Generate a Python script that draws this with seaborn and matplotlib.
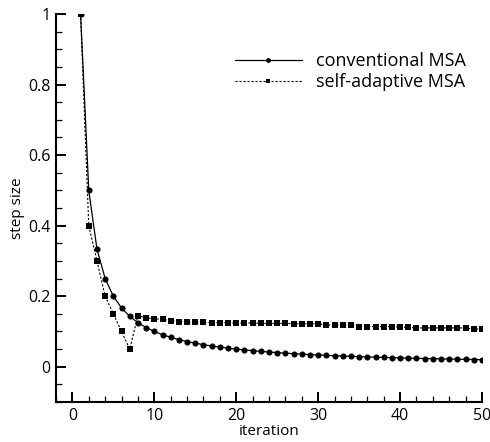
import matplotlib
matplotlib.use("Agg")
import matplotlib.pyplot as plt
import seaborn as sns
import pandas as pd
from matplotlib.ticker import MultipleLocator

iterations = list(range(1, 51))
conventional = [1.0 / k for k in iterations]
self_adaptive = [1.0, 0.4, 0.3, 0.2, 0.15, 0.1, 0.05, 0.145, 0.138, 0.136,
                 0.134, 0.131, 0.128, 0.127, 0.127, 0.126, 0.125, 0.125, 0.125, 0.124,
                 0.124, 0.124, 0.123, 0.123, 0.123, 0.123, 0.122, 0.122, 0.122, 0.122,
                 0.118, 0.118, 0.117, 0.117, 0.114, 0.114, 0.114, 0.114, 0.114, 0.112,
                 0.112, 0.110, 0.110, 0.110, 0.110, 0.110, 0.110, 0.110, 0.107, 0.107]
series_names = ["conventional MSA", "self-adaptive MSA"]

sns.set_theme(style="ticks")
plt.rcParams["font.family"] = ["Open Sans", "DejaVu Sans"]
plt.rcParams["text.color"] = "black"
plt.rcParams["axes.labelcolor"] = "black"
plt.rcParams["xtick.color"] = "black"
plt.rcParams["ytick.color"] = "black"

fig = plt.figure(figsize=(4.9, 4.42), dpi=100)
ax = fig.add_axes([56 / 490, 1 - 402 / 442, (482 - 56) / 490, (402 - 14) / 442])

df1 = pd.DataFrame({"iteration": iterations, "step size": conventional})
df2 = pd.DataFrame({"iteration": iterations, "step size": self_adaptive})

sns.lineplot(data=df1, x="iteration", y="step size", ax=ax, color="black",
             linewidth=0.9, marker="o", markersize=4.4, markeredgewidth=0,
             label=series_names[0])
sns.lineplot(data=df2, x="iteration", y="step size", ax=ax, color="black",
             linewidth=0.8, linestyle=(0, (2, 1.6)), marker="s", markersize=3.8,
             markeredgewidth=0, label=series_names[1])

ax.set_xlim(-2, 50)
ax.set_ylim(-0.1, 1)
ax.xaxis.set_major_locator(MultipleLocator(10))
ax.xaxis.set_minor_locator(MultipleLocator(2))
ax.yaxis.set_minor_locator(MultipleLocator(0.05))
ax.set_yticks([0, 0.2, 0.4, 0.6, 0.8, 1.0])
ax.set_yticklabels(["0", "0.2", "0.4", "0.6", "0.8", "1"])
ax.tick_params(which="major", direction="in", length=7, width=1.4, labelsize=11.5, pad=4)
ax.tick_params(which="minor", direction="in", length=4, width=0.9)
for s in ["top", "right"]:
    ax.spines[s].set_visible(False)
for s in ["left", "bottom"]:
    ax.spines[s].set_linewidth(1.5)
    ax.spines[s].set_color("black")

ax.set_xlabel("iteration", fontsize=11, labelpad=0)
ax.set_ylabel("step size", fontsize=11, labelpad=2)

leg = ax.legend(loc="center left", bbox_to_anchor=(235 / 490, 1 - 71.5 / 442),
                bbox_transform=fig.transFigure, frameon=False, fontsize=13,
                handlelength=3.7, handletextpad=0.8, labelspacing=0.15,
                borderpad=0, borderaxespad=0, markerscale=0.8)

fig.savefig("out.png", dpi=100)
